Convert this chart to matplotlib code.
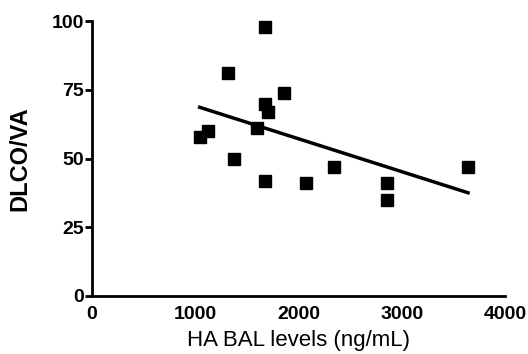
import matplotlib
matplotlib.use("Agg")
import matplotlib.pyplot as plt
import numpy as np

# HA BAL levels (ng/mL) vs DLCO/VA
ha_bal = [1043, 1121, 1314, 1372, 1594, 1671, 1671, 1700, 1671, 1855,
          2077, 2348, 2860, 2860, 3642]
dlco_va = [58, 60, 81, 50, 61, 98, 70, 67, 42, 74,
           41, 47, 41, 35, 47]

x_ticks = [0, 1000, 2000, 3000, 4000]
y_ticks = [0, 25, 50, 75, 100]

plt.rcParams['font.family'] = ['Liberation Sans', 'DejaVu Sans']

fig = plt.figure(figsize=(5.28, 3.54), dpi=100)
ax = fig.add_axes([92 / 528, 1 - 296 / 354, (505 - 92) / 528, (296 - 21) / 354])

x = np.array(ha_bal, dtype=float)
y = np.array(dlco_va, dtype=float)

# linear regression line over the data range
slope, intercept = np.polyfit(x, y, 1)
xf = np.array([x.min(), x.max()])
ax.plot(xf, slope * xf + intercept, color='black', linewidth=2.5, zorder=2)

ax.plot(x, y, 's', color='black', markersize=8, zorder=3, clip_on=False)

ax.set_xlim(0, 4000)
ax.set_ylim(0, 100)
ax.set_xticks(x_ticks)
ax.set_yticks(y_ticks)

for s in ['top', 'right']:
    ax.spines[s].set_visible(False)
for s in ['left', 'bottom']:
    ax.spines[s].set_linewidth(2.0)

ax.tick_params(axis='y', length=5, width=2.0, pad=1, labelsize=14)
ax.tick_params(axis='x', length=0, pad=7, labelsize=14)
for lbl in ax.get_xticklabels() + ax.get_yticklabels():
    lbl.set_fontweight('bold')

ax.set_xlabel('HA BAL levels (ng/mL)', fontsize=16, labelpad=5)
ax.set_ylabel('DLCO/VA', fontsize=17, fontweight='bold', labelpad=14)

fig.savefig('out.png', dpi=100)
